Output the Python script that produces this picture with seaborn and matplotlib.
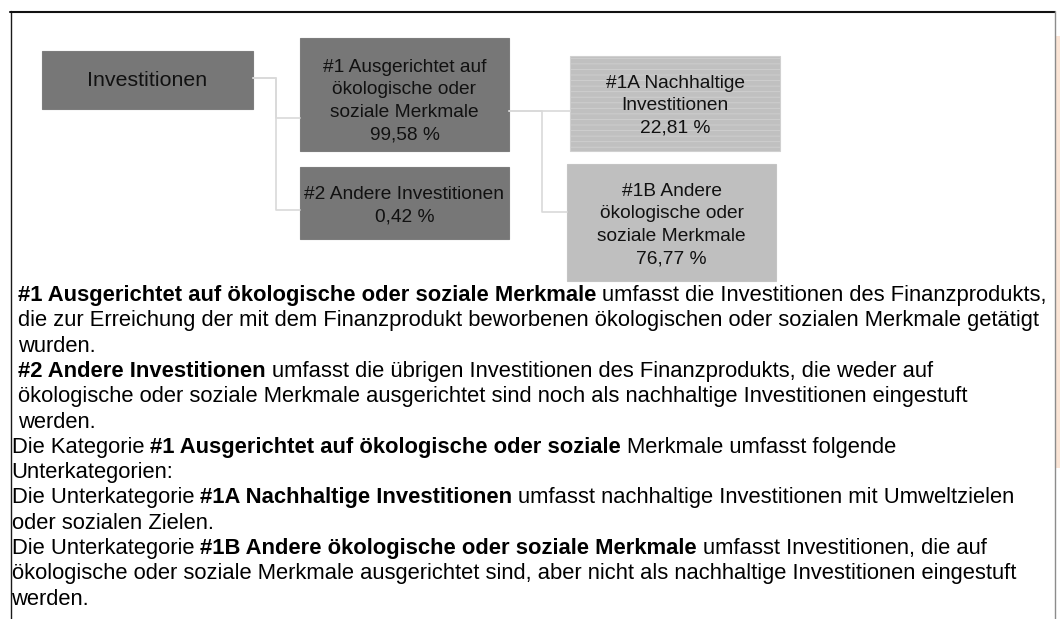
import numpy as np
import seaborn as sns
import matplotlib.pyplot as plt
from matplotlib.patches import Rectangle

# tree of investment categories, shares in %
node_names = ["Investitionen",
              "#1 Ausgerichtet auf\nökologische oder\nsoziale Merkmale",
              "#2 Andere Investitionen",
              "#1A Nachhaltige\nInvestitionen",
              "#1B Andere\nökologische oder\nsoziale Merkmale"]
node_shares = [np.nan, 99.58, 0.42, 22.81, 76.77]
node_parent = [-1, 0, 0, 1, 1]

# explanation below the tree, one list of (text, bold) runs per line
text_lines = [
    [("#1 Ausgerichtet auf ökologische oder soziale Merkmale ", True),
     ("umfasst die Investitionen des Finanzprodukts,", False)],
    [("die zur Erreichung der mit dem Finanzprodukt beworbenen ökologischen oder sozialen Merkmale getätigt", False)],
    [("wurden.", False)],
    [("#2 Andere Investitionen ", True),
     ("umfasst die übrigen Investitionen des Finanzprodukts, die weder auf", False)],
    [("ökologische oder soziale Merkmale ausgerichtet sind noch als nachhaltige Investitionen eingestuft", False)],
    [("werden.", False)],
    [("Die Kategorie ", False), ("#1 Ausgerichtet auf ökologische oder soziale ", True),
     ("Merkmale umfasst folgende", False)],
    [("Unterkategorien:", False)],
    [("Die Unterkategorie ", False), ("#1A Nachhaltige Investitionen ", True),
     ("umfasst nachhaltige Investitionen mit Umweltzielen", False)],
    [("oder sozialen Zielen.", False)],
    [("Die Unterkategorie ", False), ("#1B Andere ökologische oder soziale Merkmale ", True),
     ("umfasst Investitionen, die auf", False)],
    [("ökologische oder soziale Merkmale ausgerichtet sind, aber nicht als nachhaltige Investitionen eingestuft", False)],
    [("werden.", False)],
]

# layout (pixels)
W, H = 1060, 619
node_box = [(42, 51, 253, 109), (300, 38, 509, 151), (300, 167, 509, 239),
            (570, 56, 780, 151), (567, 164, 776, 281)]
node_text_y = [80, 101, 206, 106, 225]
node_fill = ["#777777", "#777777", "#777777", "#c0c0c0", "#bfbfbf"]
node_edge = ["#7d7d7d", "#7d7d7d", "#7d7d7d", "#d0d0d0", "#c4c4c4"]
node_hatch = [None, None, None, "---", None]
node_fs = [15.4, 13.8, 13.8, 13.8, 13.8]
link_out_y = {0: 78, 1: 111}
link_in_y = [None, 118, 210, 111, 212]
link_mid_x = {0: 276, 1: 542}
line_x = [18] * 6 + [11.5] * 7
first_baseline = 301
line_step = 25.3
body_fs = 15.85


def pct(v):
    return f"{v:.2f}".replace(".", ",") + " %"


sns.set_theme(style="white")
plt.rcParams["font.family"] = ["Liberation Sans", "DejaVu Sans"]
plt.rcParams["hatch.linewidth"] = 0.6

fig = plt.figure(figsize=(W / 100, H / 100), dpi=100)
ax = fig.add_axes([0, 0, 1, 1])
ax.set_xlim(0, W)
ax.set_ylim(H, 0)
ax.axis("off")
renderer = fig.canvas.get_renderer()

# outer frame
ax.plot([10.5, 10.5], [11, H], color="#1a1a1a", lw=1.0)
ax.plot([10, 1055], [11.5, 11.5], color="#111111", lw=1.5)
ax.plot([1054.5, 1054.5], [11, H], color="#8c8c8c", lw=1.0)
ax.add_patch(Rectangle((1056, 36), 4, 432, facecolor="#fbe5d6", edgecolor="none"))

# elbow connectors
for i, p in enumerate(node_parent):
    if p < 0:
        continue
    x0, y0, xm = node_box[p][2], link_out_y[p], link_mid_x[p]
    x1, y1 = node_box[i][0], link_in_y[i]
    ax.plot([x0, xm, xm, x1], [y0, y0, y1, y1], color="#d9d9d9", lw=1.2)

# boxes
for i, name in enumerate(node_names):
    x0, y0, x1, y1 = node_box[i]
    ax.add_patch(Rectangle((x0, y0), x1 - x0, y1 - y0, facecolor=node_fill[i],
                           edgecolor=node_edge[i], lw=0.8, hatch=node_hatch[i]))
    label = name if np.isnan(node_shares[i]) else name + "\n" + pct(node_shares[i])
    ax.text((x0 + x1) / 2, node_text_y[i], label, ha="center", va="center",
            fontsize=node_fs[i], linespacing=1.42, color="#111111")


def advance(s, bold):
    # width of a run incl. trailing spaces
    t = ax.text(0, 0, s + "|", fontsize=body_fs, fontweight="bold" if bold else "normal")
    w1 = t.get_window_extent(renderer).width
    t.set_text("|")
    w2 = t.get_window_extent(renderer).width
    t.remove()
    return w1 - w2


for k, runs in enumerate(text_lines):
    x = line_x[k]
    y = first_baseline + k * line_step
    for s, bold in runs:
        ax.text(x, y, s, ha="left", va="baseline", fontsize=body_fs,
                fontweight="bold" if bold else "normal", color="#000000")
        x += advance(s, bold)

fig.savefig("out.png", dpi=100)
